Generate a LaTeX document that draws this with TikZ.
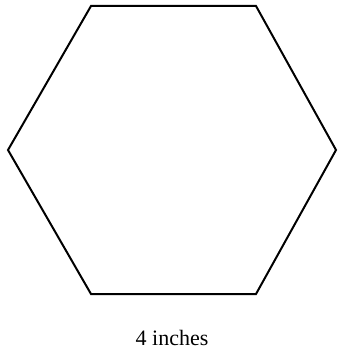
\documentclass[tikz,border=0pt]{standalone}
\usepackage{fontspec}
\setmainfont{Liberation Serif}
\begin{document}
\begin{tikzpicture}[x=1pt,y=-1pt,every node/.style={inner sep=0pt}]
  \useasboundingbox (0,0) rectangle (338,350);
  % Vértices del hexágono
  \coordinate (h1) at (91, 6);
  \coordinate (h2) at (256, 6);
  \coordinate (h3) at (336, 150);
  \coordinate (h4) at (256, 294);
  \coordinate (h5) at (91, 294);
  \coordinate (h6) at (8, 150);

  % Lados
  \draw[line width=2pt] (h1) -- (h2) -- (h3) -- (h4) -- (h5) -- (h6) -- cycle;

  % Medida
  \node[font=\fontsize{22}{26}\selectfont, anchor=base] (lado) at (172, 345) {4 inches};
\end{tikzpicture}
\end{document}
